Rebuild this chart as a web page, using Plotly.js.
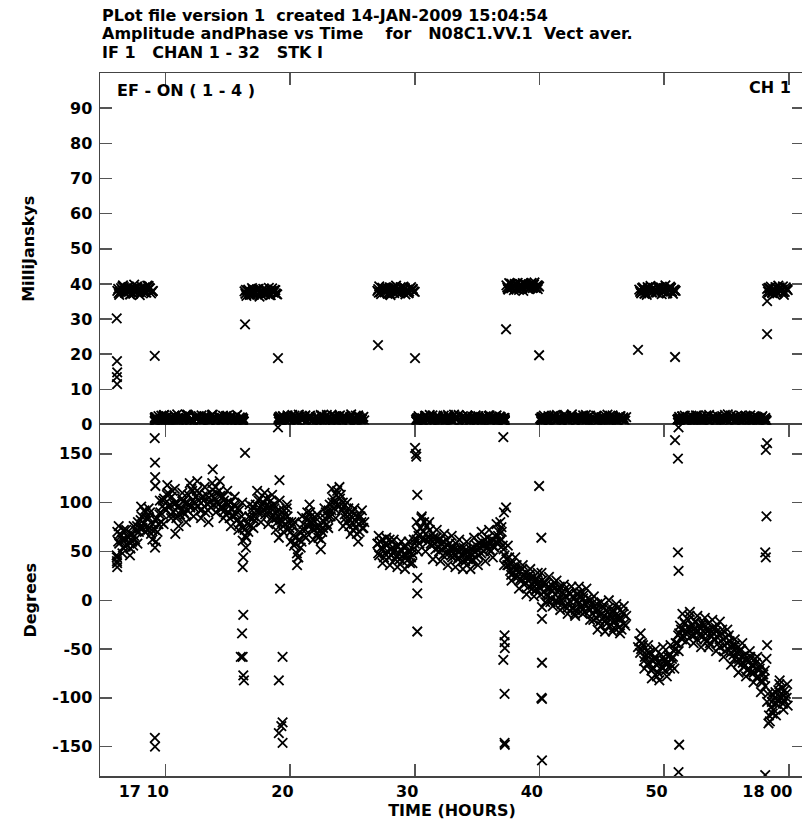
<!DOCTYPE html>
<html>
<head>
<meta charset="utf-8">
<script src="https://cdn.plot.ly/plotly-3.0.1.min.js"></script>
<style>
html,body{margin:0;padding:0;background:#fff;overflow:hidden;}
#chart{width:806px;height:824px;}
</style>
</head>
<body>
<div id="chart"></div>
<script>
// ---- header text ----
const headerLines = [
  "PLot file version 1  created 14-JAN-2009 15:04:54",
  "Amplitude andPhase vs Time    for   N08C1.VV.1  Vect aver.",
  "IF 1   CHAN 1 - 32   STK I"
];
const baselineLabel = "EF - ON ( 1 - 4 )";
const channelLabel = "CH 1";

// ---- axes ----
const timeTickVals = [10, 20, 30, 40, 50, 60];
const timeTickText = ["17 10", "20", "30", "40", "50", "18 00"];
const ampTickVals = [0, 10, 20, 30, 40, 50, 60, 70, 80, 90];
const phaseTickVals = [-150, -100, -50, 0, 50, 100, 150];
const phaseTickText = ["-150", "-100", "-50", "0", "50", "100", "150"];

// ---- data set 1: time in minutes after 17h, amplitude (mJy), phase (deg) ----
const timeMin = [
  6.15,6.30,6.45,6.60,6.75,6.90,7.05,7.20,7.35,7.50,7.65,7.80,7.95,8.10,8.25,8.40,8.55,8.70,8.85,9.00,
  9.15,9.30,9.45,9.60,9.75,9.90,10.05,10.20,10.35,10.50,10.65,10.80,10.95,11.10,11.25,11.40,11.55,11.70,11.85,12.00,
  12.15,12.30,12.45,12.60,12.75,12.90,13.05,13.20,13.35,13.50,13.65,13.80,13.95,14.10,14.25,14.40,14.55,14.70,14.85,15.00,
  15.15,15.30,15.45,15.60,15.75,15.90,16.05,16.20,
  16.35,16.50,16.65,16.80,16.95,17.10,17.25,17.40,17.55,17.70,17.85,18.00,18.15,18.30,18.45,18.60,18.75,18.90,
  19.05,19.20,19.35,19.50,19.65,19.80,19.95,20.10,20.25,20.40,20.55,20.70,20.85,21.00,21.15,21.30,21.45,21.60,21.75,21.90,
  22.05,22.20,22.35,22.50,22.65,22.80,22.95,23.10,23.25,23.40,23.55,23.70,23.85,24.00,24.15,24.30,24.45,24.60,24.75,24.90,
  25.05,25.20,25.35,25.50,25.65,25.80,25.95,
  27.00,27.15,27.30,27.45,27.60,27.75,27.90,28.05,28.20,28.35,28.50,28.65,28.80,28.95,29.10,29.25,29.40,29.55,29.70,29.85,30.00,
  30.15,30.30,30.45,30.60,30.75,30.90,31.05,31.20,31.35,31.50,31.65,31.80,31.95,32.10,32.25,32.40,32.55,32.70,32.85,33.00,
  33.15,33.30,33.45,33.60,33.75,33.90,34.05,34.20,34.35,34.50,34.65,34.80,34.95,35.10,35.25,35.40,35.55,35.70,35.85,36.00,
  36.15,36.30,36.45,36.60,36.75,36.90,37.05,37.20,
  37.35,37.50,37.65,37.80,37.95,38.10,38.25,38.40,38.55,38.70,38.85,39.00,39.15,39.30,39.45,39.60,39.75,39.90,
  40.05,40.20,40.35,40.50,40.65,40.80,40.95,41.10,41.25,41.40,41.55,41.70,41.85,42.00,42.15,42.30,42.45,42.60,42.75,42.90,
  43.05,43.20,43.35,43.50,43.65,43.80,43.95,44.10,44.25,44.40,44.55,44.70,44.85,45.00,45.15,45.30,45.45,45.60,45.75,45.90,
  46.05,46.20,46.35,46.50,46.65,46.80,46.95,
  48.00,48.15,48.30,48.45,48.60,48.75,48.90,49.05,49.20,49.35,49.50,49.65,49.80,49.95,50.10,50.25,50.40,50.55,50.70,50.85,
  51.05,51.20,51.35,51.50,51.65,51.80,51.95,52.10,52.25,52.40,52.55,52.70,52.85,53.00,53.15,53.30,53.45,53.60,53.75,53.90,
  54.05,54.20,54.35,54.50,54.65,54.80,54.95,55.10,55.25,55.40,55.55,55.70,55.85,56.00,56.15,56.30,56.45,56.60,56.75,56.90,
  57.05,57.20,57.35,57.50,57.65,57.80,57.95,58.10,
  58.25,58.40,58.55,58.70,58.85,59.00,59.15,59.30,59.45,59.60,59.75,59.90
];
const ampMJy = [
  38.0,36.9,38.8,39.6,37.5,38.3,39.1,37.0,38.6,39.8,37.8,38.1,36.8,39.2,38.4,37.6,39.5,38.9,37.3,38.0,
  1.8,0.9,2.4,1.5,1.1,2.7,1.9,0.6,1.4,2.2,1.7,0.8,2.9,1.3,1.6,2.1,0.7,1.9,2.5,1.2,
  1.5,0.9,2.3,1.8,1.0,2.6,1.4,1.7,0.5,2.0,1.3,2.8,1.6,1.1,2.2,0.8,1.9,1.5,2.4,1.0,
  1.7,2.1,0.6,1.4,2.7,1.2,1.8,1.5,
  37.9,36.6,38.4,37.2,38.8,36.9,37.6,38.2,36.4,37.8,38.6,37.0,37.4,38.9,36.8,37.7,38.3,37.1,
  1.5,2.3,0.8,1.9,1.2,2.6,1.7,0.6,2.1,1.4,1.0,2.8,1.6,1.3,2.2,0.9,1.8,2.5,1.1,1.6,
  2.0,0.7,1.5,2.4,1.9,1.2,2.7,0.8,1.4,1.7,2.3,1.0,1.8,2.6,1.3,0.6,2.0,1.5,1.1,2.9,
  1.7,1.4,0.9,2.2,1.6,1.9,1.2,
  38.0,39.3,37.1,38.6,37.6,39.0,38.3,36.8,38.9,37.4,39.5,38.1,37.3,38.7,39.2,37.0,38.4,37.8,39.1,38.5,37.7,
  1.6,2.4,1.1,1.8,0.7,2.2,1.5,2.7,1.3,0.9,1.9,2.5,1.2,1.6,2.0,0.8,1.7,2.3,1.4,1.0,
  2.8,1.5,1.9,0.6,2.1,1.3,1.8,2.6,1.1,1.6,2.2,0.9,1.7,2.4,1.4,1.9,0.7,2.0,1.5,2.6,
  1.2,1.8,2.3,1.0,1.6,2.1,1.3,1.9,
  39.6,38.4,40.1,39.0,38.2,39.8,40.3,38.9,39.4,38.0,40.0,39.2,38.6,39.9,38.8,40.4,39.1,39.5,
  1.7,1.0,2.5,1.4,1.9,0.8,2.2,1.6,1.2,2.7,1.5,2.0,0.7,1.8,2.4,1.1,1.6,2.9,1.3,0.9,
  2.1,1.7,1.4,2.6,1.0,1.9,2.3,0.6,1.5,1.8,2.5,1.2,1.6,2.0,0.8,1.4,2.8,1.7,1.1,2.2,
  1.9,1.3,0.9,2.4,1.6,1.0,2.1,
  38.4,37.3,39.0,38.1,36.9,38.7,39.4,37.6,38.2,37.9,39.2,38.5,37.1,38.8,39.6,37.4,38.0,38.9,37.2,38.3,
  1.4,2.2,0.9,1.7,2.5,1.2,1.8,0.7,2.0,1.5,2.6,1.1,1.6,2.3,0.8,1.9,1.3,2.7,1.0,1.7,
  2.1,1.4,0.6,1.8,2.4,1.2,1.6,2.9,1.0,1.5,2.2,0.8,1.9,1.3,2.5,1.7,1.1,2.0,1.4,2.6,
  0.9,1.8,2.3,1.2,1.6,2.0,1.3,1.9,
  38.6,37.5,39.2,38.0,37.1,38.9,39.5,37.8,38.4,36.9,39.0,38.2
];
const phaseDeg = [
  70,58,66,54,62,57,64,53,60,66,71,80,74,86,79,90,76,84,68,78,
  72,84,78,90,96,104,92,110,98,106,90,100,86,97,92,101,88,99,108,95,
  112,100,106,96,110,93,102,90,99,105,95,113,104,110,98,107,94,102,88,98,
  84,94,87,96,82,92,80,74,
  72,64,70,84,92,86,98,90,104,96,100,88,97,92,102,86,94,84,
  86,88,80,92,78,86,74,80,66,58,48,62,54,72,66,84,76,90,80,72,
  84,68,76,62,74,84,78,92,86,100,94,108,98,104,92,96,84,90,76,86,
  72,82,68,78,86,74,80,
  58,46,54,62,48,56,44,52,60,50,45,55,42,50,47,56,41,49,44,52,58,
  62,66,74,62,80,68,60,72,56,64,52,60,50,58,46,55,62,48,54,44,
  52,58,42,50,46,54,40,49,44,52,42,50,56,46,54,60,50,58,64,52,
  60,56,66,58,70,62,56,46,
  42,36,30,38,28,32,24,30,20,26,18,24,14,22,16,20,12,18,
  12,20,8,16,4,12,2,14,6,-2,10,0,8,-6,4,-4,6,-8,2,-10,
  0,4,-6,2,-12,-2,-8,0,-14,-6,-18,-10,-22,-14,-8,-20,-12,-26,-16,-10,
  -22,-14,-28,-18,-12,-24,-16,
  -42,-50,-46,-58,-52,-64,-56,-70,-60,-66,-74,-62,-68,-58,-72,-64,-56,-66,-58,-50,
  -44,-34,-30,-36,-24,-32,-20,-30,-26,-36,-22,-32,-28,-38,-26,-34,-42,-30,-36,-28,
  -40,-32,-44,-36,-30,-46,-38,-50,-42,-48,-56,-46,-54,-60,-50,-64,-56,-62,-70,-58,
  -66,-74,-64,-78,-70,-82,-76,-88,
  -104,-118,-110,-116,-100,-106,-92,-100,-90,-102,-96,-108
];

// ---- data set 2 (interleaved integrations) ----
const timeMin2 = [
  6.22,6.37,6.53,6.68,6.82,6.97,7.13,7.28,7.42,7.57,7.73,7.88,8.02,8.17,8.33,8.48,8.62,8.77,8.93,
  9.22,9.37,9.53,9.68,9.82,9.97,10.13,10.28,10.42,10.57,10.73,10.88,11.02,11.17,11.33,11.48,11.62,11.77,11.93,12.08,
  12.22,12.37,12.53,12.68,12.82,12.97,13.13,13.28,13.42,13.57,13.73,13.88,14.02,14.17,14.33,14.48,14.62,14.77,14.93,15.08,
  15.22,15.37,15.53,15.68,15.82,15.97,16.12,
  16.42,16.57,16.73,16.88,17.02,17.17,17.33,17.48,17.62,17.77,17.93,18.08,18.22,18.37,18.53,18.68,18.82,18.97,
  19.12,19.27,19.43,19.58,19.72,19.87,20.03,20.18,20.32,20.47,20.63,20.78,20.92,21.07,21.23,21.38,21.52,21.67,21.83,21.98,
  22.12,22.27,22.43,22.58,22.72,22.87,23.03,23.18,23.32,23.47,23.63,23.78,23.92,24.07,24.23,24.38,24.52,24.67,24.83,24.98,
  25.12,25.27,25.43,25.58,25.72,25.88,
  27.07,27.22,27.38,27.53,27.67,27.82,27.98,28.13,28.27,28.42,28.58,28.73,28.87,29.02,29.18,29.33,29.47,29.62,29.78,29.92,
  30.22,30.37,30.53,30.68,30.82,30.97,31.13,31.28,31.42,31.57,31.73,31.88,32.03,32.18,32.32,32.47,32.63,32.78,32.92,33.07,
  33.23,33.38,33.52,33.67,33.83,33.98,34.12,34.27,34.43,34.58,34.73,34.88,35.02,35.17,35.33,35.48,35.62,35.77,35.93,36.08,
  36.22,36.37,36.53,36.68,36.82,36.97,37.12,
  37.42,37.57,37.73,37.88,38.02,38.17,38.33,38.48,38.62,38.77,38.93,39.08,39.22,39.37,39.53,39.68,39.82,39.97,
  40.12,40.27,40.43,40.58,40.72,40.87,41.03,41.18,41.32,41.47,41.63,41.78,41.92,42.07,42.23,42.38,42.52,42.67,42.83,42.98,
  43.12,43.27,43.43,43.58,43.72,43.87,44.03,44.18,44.32,44.47,44.63,44.78,44.92,45.07,45.23,45.38,45.52,45.67,45.83,45.98,
  46.12,46.27,46.43,46.58,46.72,46.88,
  48.07,48.22,48.38,48.53,48.67,48.82,48.98,49.13,49.27,49.42,49.58,49.73,49.87,50.02,50.18,50.33,50.47,50.62,50.78,50.92,
  51.12,51.27,51.43,51.58,51.72,51.87,52.03,52.18,52.32,52.47,52.63,52.78,52.92,53.07,53.23,53.38,53.52,53.67,53.83,53.98,
  54.12,54.27,54.43,54.58,54.72,54.87,55.03,55.18,55.32,55.47,55.63,55.78,55.92,56.07,56.23,56.38,56.52,56.67,56.83,56.98,
  57.12,57.27,57.43,57.58,57.72,57.87,58.03,
  58.32,58.47,58.63,58.78,58.92,59.07,59.23,59.38,59.52,59.67,59.82
];
const ampMJy2 = [
  38.6,37.7,38.2,39.1,37.4,38.9,37.9,38.5,37.2,38.8,39.3,37.6,38.4,38.0,39.0,37.5,38.3,38.7,37.8,
  2.1,1.3,0.8,2.5,1.6,1.0,2.2,1.8,0.7,1.5,2.6,1.2,1.9,0.9,2.3,1.4,1.7,2.8,1.1,1.6,
  0.8,2.0,1.5,2.4,1.2,0.6,1.9,2.2,1.4,1.0,2.7,1.7,0.9,1.5,2.1,1.3,2.5,0.7,1.8,1.6,
  2.3,1.0,1.9,1.2,0.8,2.0,1.4,
  37.2,38.1,37.6,36.9,38.4,37.8,37.0,38.6,37.4,38.0,37.3,38.3,37.7,36.8,38.0,37.5,38.2,37.0,
  1.9,1.1,2.4,1.5,0.8,2.1,1.6,2.7,1.2,1.8,0.9,2.3,1.4,1.7,2.6,1.0,1.5,2.0,1.3,0.7,
  2.2,1.8,1.1,2.5,1.6,0.9,2.0,1.4,2.8,1.2,1.7,0.8,2.3,1.5,1.0,2.4,1.9,1.3,2.1,0.6,
  1.6,2.5,1.2,1.8,0.9,2.2,
  38.5,37.6,38.9,37.9,38.3,37.2,39.0,38.4,37.7,38.8,37.5,38.1,39.1,37.8,38.6,38.0,37.4,38.7,38.2,37.9,
  1.2,2.0,1.6,0.8,2.4,1.3,1.9,1.0,2.6,1.5,0.7,2.1,1.8,1.2,2.5,1.4,0.9,2.2,1.7,1.1,
  2.0,1.5,2.7,0.8,1.6,1.9,1.2,2.3,1.0,1.7,1.4,2.6,1.1,1.8,0.9,2.2,1.5,1.3,2.4,1.0,
  1.7,2.0,0.8,1.5,2.3,1.2,1.6,
  39.0,40.2,38.7,39.5,40.0,38.5,39.3,39.9,38.8,40.1,39.4,38.6,39.7,40.3,39.0,38.9,39.6,39.2,
  1.3,2.1,1.6,0.9,2.4,1.2,1.8,2.6,1.0,1.5,2.0,1.4,0.8,2.3,1.7,1.1,2.5,1.3,1.9,0.7,
  1.6,2.2,1.0,1.8,2.7,1.4,0.9,2.0,1.5,1.2,2.4,1.7,0.8,1.9,1.3,2.1,1.0,2.5,1.6,1.2,
  1.8,0.9,2.3,1.4,2.0,1.1,
  37.7,38.8,38.2,37.4,39.1,38.0,37.6,38.9,38.3,37.5,38.6,39.0,37.8,38.1,37.3,38.7,39.2,37.9,38.4,38.0,
  1.7,1.0,2.3,1.4,0.8,2.0,1.6,2.5,1.2,1.9,0.7,1.5,2.2,1.1,1.8,2.6,1.3,0.9,2.1,1.6,
  1.2,2.4,1.7,1.0,1.9,2.7,1.4,0.8,2.0,1.5,1.1,2.3,1.6,0.9,2.1,1.3,2.5,1.8,1.0,1.6,
  2.2,1.4,0.8,1.9,1.2,2.4,1.5,
  37.9,38.8,37.6,38.4,39.1,37.3,38.5,38.0,39.3,37.7,38.6
];
const phaseDeg2 = [
  60,68,62,72,55,66,59,68,56,62,76,70,82,74,92,84,72,90,72,
  82,70,88,80,102,94,108,96,88,112,98,84,96,88,104,90,100,92,98,114,
  102,94,112,102,92,106,96,108,92,100,108,98,116,100,112,96,106,92,100,90,
  100,86,98,88,94,78,86,
  66,78,86,76,96,82,92,102,90,98,92,104,88,96,84,98,90,80,
  92,82,76,88,94,80,70,76,56,64,44,70,60,78,72,90,80,86,74,80,
  74,64,72,70,80,90,86,98,92,104,100,112,96,108,100,88,80,94,82,90,
  78,74,86,70,80,74,
  48,60,52,44,58,50,62,46,54,42,56,48,52,40,54,46,50,38,48,62,
  70,58,84,70,62,76,64,58,68,58,64,54,62,52,60,48,56,58,46,54,
  46,52,44,54,40,48,52,42,48,40,54,44,52,58,48,56,62,54,58,50,
  62,54,60,66,60,70,52,
  36,44,26,34,24,36,28,22,32,16,28,20,26,12,24,10,22,14,
  6,16,18,6,14,-2,10,18,0,8,14,-4,6,12,-8,8,-2,4,-14,6,
  -4,8,-10,6,-4,2,-10,-4,-20,-10,-4,-16,-26,-6,-16,-24,-8,-20,-12,-28,
  -18,-8,-20,-30,-14,-26,
  -54,-44,-62,-56,-66,-54,-72,-62,-58,-78,-64,-56,-70,-62,-66,-58,-70,-60,-52,-44,
  -36,-26,-40,-22,-34,-28,-16,-36,-30,-22,-40,-26,-34,-24,-40,-30,-24,-44,-32,-40,
  -28,-38,-48,-34,-40,-52,-44,-36,-54,-46,-60,-50,-64,-52,-58,-68,-60,-72,-62,-74,
  -68,-60,-80,-72,-66,-84,-80,
  -96,-124,-104,-112,-94,-102,-86,-96,-106,-92,-100
];

// ---- data set 3 (sparser integrations with wider phase scatter) ----
const timeMin3 = [
  6.26,6.56,6.86,7.16,7.46,7.76,8.06,8.36,8.66,8.96,
  9.26,9.56,9.86,10.16,10.46,10.76,11.06,11.36,11.66,11.96,12.26,12.56,12.86,13.16,13.46,13.76,14.06,14.36,14.66,14.96,15.26,15.56,15.86,16.16,
  16.46,16.76,17.06,17.36,17.66,17.96,18.26,18.56,18.86,
  19.16,19.46,19.76,20.06,20.36,20.66,20.96,21.26,21.56,21.86,22.16,22.46,22.76,23.06,23.36,23.66,23.96,24.26,24.56,24.86,25.16,25.46,25.76,
  27.11,27.41,27.71,28.01,28.31,28.61,28.91,29.21,29.51,29.81,
  30.26,30.56,30.86,31.16,31.46,31.76,32.06,32.36,32.66,32.96,33.26,33.56,33.86,34.16,34.46,34.76,35.06,35.36,35.66,35.96,36.26,36.56,36.86,37.16,
  37.46,37.76,38.06,38.36,38.66,38.96,39.26,39.56,39.86,
  40.16,40.46,40.76,41.06,41.36,41.66,41.96,42.26,42.56,42.86,43.16,43.46,43.76,44.06,44.36,44.66,44.96,45.26,45.56,45.86,46.16,46.46,46.76,
  48.11,48.41,48.71,49.01,49.31,49.61,49.91,50.21,50.51,50.81,
  51.16,51.46,51.76,52.06,52.36,52.66,52.96,53.26,53.56,53.86,54.16,54.46,54.76,55.06,55.36,55.66,55.96,56.26,56.56,56.86,57.16,57.46,57.76,58.06,
  58.36,58.66,58.96,59.26,59.56,59.86
];
const ampMJy3 = [
  37.4,39.2,38.1,37.0,38.7,39.0,37.6,38.3,39.4,37.9,
  2.0,1.2,2.6,0.8,1.7,2.3,1.0,1.5,2.8,1.3,0.9,2.1,1.6,2.4,1.1,1.8,0.7,2.2,1.4,2.5,1.0,1.9,1.3,2.0,
  38.3,36.9,37.8,38.5,37.1,38.0,37.5,38.7,37.3,
  1.4,2.2,0.9,1.7,2.5,1.1,1.9,0.7,2.3,1.5,1.0,2.7,1.3,1.8,0.8,2.1,1.6,2.4,1.2,1.9,0.9,2.6,1.4,
  37.5,38.9,38.2,37.2,39.0,38.4,37.7,38.8,37.4,38.6,
  1.8,1.1,2.5,1.4,0.8,2.2,1.6,1.0,2.7,1.3,1.9,0.7,2.4,1.5,1.1,2.0,1.7,0.9,2.3,1.4,1.2,2.6,1.8,1.0,
  38.6,40.0,39.3,38.3,40.2,39.6,38.9,39.8,38.5,
  2.1,1.3,0.8,2.4,1.6,1.0,2.7,1.2,1.8,0.9,2.2,1.5,1.1,2.5,1.4,0.7,2.0,1.7,1.3,2.6,1.0,1.9,1.5,
  38.0,37.2,38.9,38.4,37.6,39.1,38.2,37.4,38.7,38.1,
  1.5,2.3,1.0,1.8,0.8,2.5,1.3,1.9,1.1,2.2,1.6,0.7,2.0,1.4,2.6,1.2,1.7,0.9,2.4,1.5,1.0,2.1,1.6,1.3,
  38.9,37.4,38.1,39.0,37.6,38.4
];
const phaseDeg3 = [
  76,48,72,46,76,58,96,70,94,62,
  60,102,78,118,84,114,76,110,80,120,86,122,84,116,80,120,90,122,84,112,76,106,72,100,
  54,98,74,112,80,110,78,108,72,
  102,70,98,60,80,44,86,64,98,62,88,52,94,74,114,84,116,76,100,68,94,60,92,
  66,38,64,36,62,34,60,32,60,38,
  50,86,50,80,42,72,40,68,36,66,34,62,32,60,32,64,36,70,40,72,44,78,80,36,
  56,20,44,12,36,6,32,4,28,
  28,-2,24,-6,20,-10,16,-14,14,-16,14,-14,12,-20,4,-30,-2,-32,0,-32,-4,-34,-6,
  -34,-70,-46,-80,-50,-82,-48,-78,-46,-70,
  -52,-14,-42,-12,-44,-16,-48,-18,-48,-20,-52,-22,-58,-30,-66,-40,-74,-44,-78,-52,-84,-58,-94,-72,
  -126,-96,-118,-82,-112,-86
];

// ---- scattered points at scan changes ----
const outTime = [
  6.10,6.12,6.14,6.11,6.13,
  9.15,9.17,9.18,9.20,9.17,9.16,9.17,10.80,13.80,
  16.39,16.20,16.25,16.20,16.25,16.15,16.20,16.05,16.25,16.30,
  19.03,19.15,19.10,19.20,19.40,19.10,19.40,19.30,19.10,19.40,20.56,
  27.05,30.02,30.10,30.12,30.20,30.15,30.20,30.20,30.20,
  37.32,37.10,37.15,36.95,37.20,37.20,37.22,37.10,37.20,37.20,37.22,
  39.97,40.20,40.20,40.15,40.20,40.15,40.20,40.20,
  47.90,50.87,51.10,51.15,51.10,51.15,51.20,51.15,
  58.25,58.25,58.15,58.20,58.10,58.15,58.20,58.10
];
const outAmp = [
  30.2,18.0,14.8,13.5,11.5,
  19.5,1.2,0.9,1.5,2.0,1.1,0.8,1.4,1.9,
  28.5,1.3,0.9,1.7,1.0,1.5,0.7,1.2,1.6,0.8,
  18.9,1.1,1.6,0.9,1.4,2.0,1.0,1.3,0.8,1.5,1.2,
  22.6,18.9,1.3,0.9,1.6,1.0,1.8,0.7,1.2,
  27.1,1.4,1.0,1.7,0.9,1.5,1.1,1.8,0.8,1.3,1.0,
  19.7,1.5,1.0,1.8,1.2,0.8,1.6,1.1,
  21.2,19.2,0.6,0.3,1.4,1.0,1.7,1.2,
  25.7,35.1,1.3,1.0,1.6,0.9,1.2,0.8
];
const outPhase = [
  46,40,34,44,38,
  166,141,126,117,54,-141,-150,68,134,
  151,61,44,34,-15,-34,-58,-58,-77,-82,
  177,123,64,12,-58,-82,-125,-129,-136,-146,36,
  58,156,150,147,108,80,23,7,-32,
  95,167,90,75,-36,-43,-49,-61,-96,-146,-148,
  117,-7,-19,64,-64,-100,-101,-164,
  -48,164,145,177,49,30,-148,-176,
  161,-46,154,86,49,44,-60,-179
];

// ---- drawing ----
const FONT = "DejaVu Sans, Liberation Sans, Arial, sans-serif";
const NBSP = "\u00a0";
const fixSpaces = s => s.replace(/ {2,}/g, m => " " + NBSP.repeat(m.length - 1));

const allT = timeMin.concat(timeMin2, timeMin3, outTime);
const allAmp = ampMJy.concat(ampMJy2, ampMJy3, outAmp);
const allPhase = phaseDeg.concat(phaseDeg2, phaseDeg3, outPhase);
const markerStyle = {symbol: "x-thin-open", size: 9.5, color: "#000", line: {width: 1.8, color: "#000"}};

const traces = [
  {type: "scatter", mode: "markers", x: allT, y: allAmp,
   xaxis: "x2", yaxis: "y", marker: markerStyle, hoverinfo: "skip"},
  {type: "scatter", mode: "markers", x: allT, y: allPhase,
   xaxis: "x", yaxis: "y2", marker: markerStyle, hoverinfo: "skip"}
];

const tickFont = {family: FONT, size: 16, color: "#000", weight: 700};
const titleFont = {family: FONT, size: 16, color: "#000", weight: 700};
const axisCommon = {
  ticks: "inside", ticklen: 12, tickwidth: 1.5, tickcolor: "#555",
  showline: true, linecolor: "#444", linewidth: 1.5,
  showgrid: false, zeroline: false, tickfont: tickFont
};

const xRange = [4.76, 61.21];

const layout = {
  width: 806, height: 824,
  margin: {l: 100, r: 2, t: 73, b: 48},
  paper_bgcolor: "#fff", plot_bgcolor: "#fff",
  showlegend: false,
  xaxis: Object.assign({}, axisCommon, {
    domain: [0, 1], anchor: "y2", range: xRange,
    tickmode: "array", tickvals: timeTickVals, ticktext: timeTickText,
    ticklabelposition: "outside left", ticklabelshift: 5,
    mirror: "ticks",
    title: {text: "TIME (HOURS)", font: titleFont, standoff: 4}
  }),
  xaxis2: Object.assign({}, axisCommon, {
    domain: [0, 1], anchor: "y", side: "top", range: xRange, matches: "x",
    tickmode: "array", tickvals: timeTickVals, showticklabels: false
  }),
  yaxis: Object.assign({}, axisCommon, {
    domain: [0.5, 1], anchor: "x2", range: [0, 100],
    tickmode: "array", tickvals: ampTickVals, mirror: "ticks", ticklabelstandoff: 3,
    title: {text: "MilliJanskys", font: titleFont, standoff: 31}
  }),
  yaxis2: Object.assign({}, axisCommon, {
    domain: [0, 0.5], anchor: "x", range: [-180, 180],
    tickmode: "array", tickvals: phaseTickVals, ticktext: phaseTickText,
    mirror: "ticks", ticklabelstandoff: 3,
    title: {text: "Degrees", font: titleFont, standoff: 11}
  }),
  annotations: [
    {text: fixSpaces(headerLines[0]), xref: "paper", yref: "paper", x: 0, y: 1.0818, xanchor: "left", yanchor: "middle", showarrow: false, font: titleFont},
    {text: fixSpaces(headerLines[1]), xref: "paper", yref: "paper", x: 0, y: 1.0558, xanchor: "left", yanchor: "middle", showarrow: false, font: titleFont},
    {text: fixSpaces(headerLines[2]), xref: "paper", yref: "paper", x: 0, y: 1.0294, xanchor: "left", yanchor: "middle", showarrow: false, font: titleFont},
    {text: fixSpaces(baselineLabel), xref: "paper", yref: "paper", x: 0.0213, y: 0.9758, xanchor: "left", yanchor: "middle", showarrow: false, font: titleFont},
    {text: channelLabel, xref: "paper", yref: "paper", x: 0.9844, y: 0.980, xanchor: "right", yanchor: "middle", showarrow: false, font: titleFont}
  ]
};

Plotly.newPlot("chart", traces, layout, {displayModeBar: false, staticPlot: true});
</script>
</body>
</html>
